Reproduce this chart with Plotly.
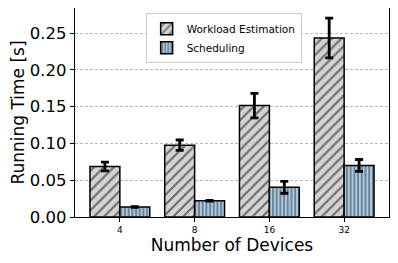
import plotly.graph_objects as go

devices = ["4", "8", "16", "32"]
workload = [0.0687, 0.0976, 0.1514, 0.2432]
workload_err = [0.006, 0.007, 0.0167, 0.027]
scheduling = [0.0136, 0.0222, 0.0403, 0.0701]
scheduling_err = [0.0005, 0.0005, 0.008, 0.008]
y_ticks = [0.0, 0.05, 0.10, 0.15, 0.20, 0.25]
y_tick_labels = ["0.00", "0.05", "0.10", "0.15", "0.20", "0.25"]

fig = go.Figure()
fig.add_trace(go.Bar(
    x=devices, y=workload, name="Workload Estimation",
    marker=dict(color="#d3d3d3", line=dict(color="black", width=1.5),
                pattern=dict(shape="/", fgcolor="black", bgcolor="#d3d3d3", size=7, solidity=0.28)),
    error_y=dict(type="data", array=workload_err, color="black", thickness=2.8, width=4),
))
fig.add_trace(go.Bar(
    x=devices, y=scheduling, name="Scheduling",
    marker=dict(color="#a9c9e3", line=dict(color="black", width=1.5),
                pattern=dict(shape="|", fgcolor="black", bgcolor="#a9c9e3", size=3.7, solidity=0.35)),
    error_y=dict(type="data", array=scheduling_err, color="black", thickness=2.8, width=4),
))

fig.update_layout(
    width=390, height=255,
    margin=dict(l=67, r=9, t=0, b=46, autoexpand=False),
    paper_bgcolor="white", plot_bgcolor="white",
    barmode="group", bargap=0.2, bargroupgap=0,
    font=dict(family="DejaVu Sans", color="black"),
    showlegend=True,
    legend=dict(x=0.225, y=0.975, xanchor="left", yanchor="top",
                font=dict(size=10.5), bgcolor="rgba(255,255,255,0.8)",
                bordercolor="#cccccc", borderwidth=1,
                itemwidth=30, tracegroupgap=0),
)
fig.update_xaxes(
    type="category", range=[-0.6, 3.6],
    showline=True, mirror=True, linecolor="black", linewidth=1.3,
    ticks="outside", ticklen=4, tickcolor="black",
    tickfont=dict(size=9),
    title=dict(text="Number of Devices", font=dict(size=17), standoff=4),
    showgrid=False,
)
fig.update_yaxes(
    range=[0, 0.284], tickvals=y_ticks, ticktext=y_tick_labels,
    showline=True, mirror=True, linecolor="black", linewidth=1.3,
    ticks="outside", ticklen=4, tickcolor="black",
    tickfont=dict(size=16.5),
    title=dict(text="Running Time [s]", font=dict(size=17), standoff=4),
    showgrid=True, gridcolor="#b8b8b8", griddash="3px,2px", gridwidth=0.8,
    zeroline=False,
)

fig.write_html("out.html")
